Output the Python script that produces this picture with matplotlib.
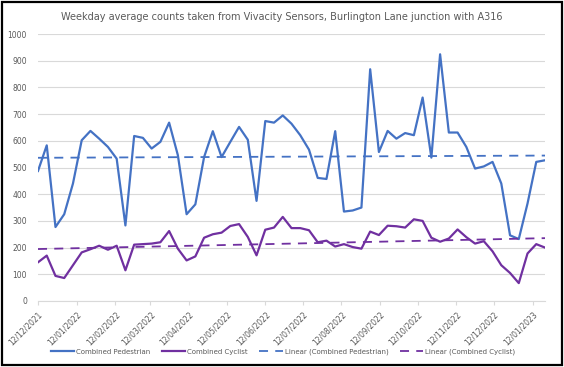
import numpy as np
import pandas as pd
import matplotlib
matplotlib.use("Agg")
import matplotlib.pyplot as plt
import matplotlib.dates as mdates
from matplotlib.patches import Rectangle

# weekly readings starting 12/12/2021
START_DATE = "2021-12-12"
pedestrian = [487, 583, 277, 325, 440, 602, 637, 608, 577, 533,
              283, 618, 611, 571, 596, 668, 546, 325, 362, 539,
              636, 539, 596, 652, 604, 375, 674, 668, 695, 664,
              621, 567, 461, 457, 636, 335, 339, 350, 868, 558,
              637, 608, 629, 621, 762, 537, 924, 631, 631, 577,
              496, 504, 521, 440, 246, 232, 365, 521, 527]
cyclist = [145, 170, 94, 86, 134, 182, 194, 207, 192, 207,
           115, 211, 213, 215, 220, 262, 196, 152, 167, 237,
           250, 256, 281, 288, 240, 171, 267, 275, 315, 273,
           273, 265, 220, 226, 204, 213, 202, 196, 260, 247,
           282, 280, 275, 306, 300, 237, 222, 234, 268, 239,
           215, 224, 186, 134, 105, 67, 178, 213, 200]

dates = pd.date_range(START_DATE, periods=len(pedestrian), freq="7D")
# ticks on the 12th of every month
tick_dates = [pd.Timestamp(year=2021 + (11 + m) // 12, month=(11 + m) % 12 + 1, day=12)
              for m in range(14)]

BLUE = "#4472C4"
PURPLE = "#7030A0"
GREY = "#595959"

fig = plt.figure(figsize=(5.64, 3.67), dpi=100)
ax = fig.add_axes([38 / 564, 1 - 301 / 367, (545 - 38) / 564, (301 - 34) / 367])

ax.plot(dates, pedestrian, color=BLUE, lw=1.6, label="Combined Pedestrian")
ax.plot(dates, cyclist, color=PURPLE, lw=1.6, label="Combined Cyclist")

# linear trendlines, as Excel does
xnum = np.arange(len(dates))
for vals, col, name in [(pedestrian, BLUE, "Linear (Combined Pedestrian)"),
                        (cyclist, PURPLE, "Linear (Combined Cyclist)")]:
    k, b = np.polyfit(xnum, vals, 1)
    ax.plot(dates, k * xnum + b, color=col, lw=1.3, ls=(0, (5, 4)), label=name)

ax.set_ylim(0, 1000)
ax.set_yticks(np.arange(0, 1001, 100))
ax.set_xlim(dates[0], dates[-1])
ax.set_xticks(tick_dates)
ax.xaxis.set_major_formatter(mdates.DateFormatter("%d/%m/%Y"))
ax.grid(axis="y", color="#D9D9D9", lw=0.8)
ax.set_axisbelow(True)
for s in ["top", "right", "left"]:
    ax.spines[s].set_visible(False)
ax.spines["bottom"].set_color("#D9D9D9")
ax.tick_params(axis="y", length=0, labelsize=5.5, labelcolor=GREY, pad=8)
ax.tick_params(axis="x", length=3, color="#D9D9D9", labelsize=5.5, labelcolor=GREY)
plt.setp(ax.get_xticklabels(), rotation=45, ha="right", rotation_mode="anchor")

fig.text(0.5, 1 - 17 / 367, "Weekday average counts taken from Vivacity Sensors, Burlington Lane junction with A316",
         ha="center", va="center", fontsize=7, color=GREY)

fig.legend(loc="center", bbox_to_anchor=(283 / 564, 1 - 352 / 367), ncol=4, frameon=False,
           fontsize=5, labelcolor=GREY, handlelength=3.4, handletextpad=0.3,
           columnspacing=1.6)

fig.patches.append(Rectangle((1.5 / 564, 1 - 364.5 / 367), 560.5 / 564, 363 / 367,
                             transform=fig.transFigure, fill=False,
                             edgecolor="black", lw=1.6))

fig.savefig("out.png", dpi=100)
